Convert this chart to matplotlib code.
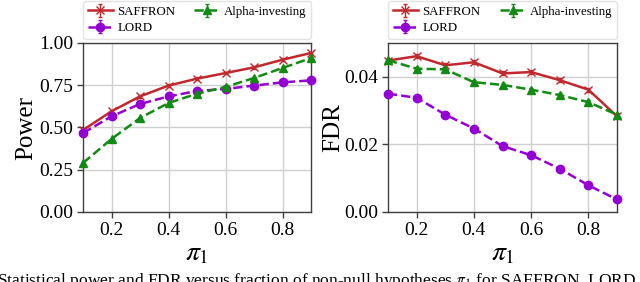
import matplotlib
matplotlib.use("Agg")
import matplotlib.pyplot as plt

plt.rcParams['font.family'] = ['Liberation Serif', 'DejaVu Serif']
plt.rcParams['mathtext.fontset'] = 'stix'

pi1 = [0.1, 0.2, 0.3, 0.4, 0.5, 0.6, 0.7, 0.8, 0.9]
x_ticks = [0.2, 0.4, 0.6, 0.8]

power_saffron = [0.485, 0.596, 0.684, 0.748, 0.789, 0.822, 0.856, 0.901, 0.941]
power_lord = [0.467, 0.566, 0.639, 0.684, 0.716, 0.728, 0.748, 0.767, 0.779]
power_alpha = [0.29, 0.432, 0.556, 0.645, 0.70, 0.74, 0.793, 0.852, 0.911]

fdr_saffron = [0.0448, 0.0461, 0.0434, 0.0443, 0.0410, 0.0414, 0.0390, 0.0362, 0.0283]
fdr_lord = [0.0350, 0.0338, 0.0288, 0.0247, 0.0195, 0.0168, 0.0128, 0.0079, 0.0037]
fdr_alpha = [0.0449, 0.0424, 0.0422, 0.0384, 0.0376, 0.0362, 0.0346, 0.0325, 0.0288]

power_err = [0.008] * 9
fdr_err = [0.0006] * 9

names = ['SAFFRON', 'LORD', 'Alpha-investing']
colors = ['#c0282d', '#9400d3', '#138a13']
markers = ['x', 'o', '^']
styles = ['-', '--', '--']

fig = plt.figure(figsize=(6.4, 2.82), dpi=100)
W, H = 640, 282
ax1 = fig.add_axes([83 / W, (H - 212) / H, 228 / W, 169 / H])
ax2 = fig.add_axes([388 / W, (H - 212) / H, 229 / W, 169 / H])


def draw(ax, series, err, ylim, yticks, ylabel):
    for y, name, c, m, ls in zip(series, names, colors, markers, styles):
        ax.errorbar(pi1, y, yerr=err, color=c, marker=m, linestyle=ls,
                    linewidth=1.8, markersize=6, markeredgewidth=1.0,
                    elinewidth=1.0, capsize=1.5, label=name,
                    markerfacecolor=c, markeredgecolor=c, clip_on=False,
                    zorder=3)
    ax.set_xlim(0.1, 0.9)
    ax.set_ylim(*ylim)
    ax.set_xticks(x_ticks)
    ax.set_yticks(yticks)
    ax.grid(True, color='#d0d0d0', linewidth=1.0)
    ax.set_axisbelow(True)
    for s in ax.spines.values():
        s.set_color('#404040')
        s.set_linewidth(1.0)
    ax.tick_params(labelsize=14, length=4, color='#404040', width=1.0, pad=3)
    ax.set_ylabel(ylabel, fontsize=18)
    ax.set_xlabel(r'$\pi_1$', fontsize=20, labelpad=2)
    ax.legend(loc='lower left', bbox_to_anchor=(0, 1.025, 1, 0.2), mode='expand',
              ncol=2, fontsize=9.3, frameon=True, borderaxespad=0,
              handlelength=2.0, columnspacing=1.2, handletextpad=0.3,
              labelspacing=0.35, borderpad=0.35, fancybox=True,
              edgecolor='#dddddd')


draw(ax1, [power_saffron, power_lord, power_alpha], power_err,
     (0, 1.0), [0.0, 0.25, 0.5, 0.75, 1.0], 'Power')
ax1.set_yticklabels(['0.00', '0.25', '0.50', '0.75', '1.00'])
draw(ax2, [fdr_saffron, fdr_lord, fdr_alpha], fdr_err,
     (0, 0.05), [0.0, 0.02, 0.04], 'FDR')
ax2.set_yticklabels(['0.00', '0.02', '0.04'])
ax1.yaxis.set_label_coords(-0.20, 0.5)
ax2.yaxis.set_label_coords(-0.19, 0.5)

fig.text(-0.004, -0.012,
         r'Statistical power and FDR versus fraction of non-null hypotheses $\pi_1$ for SAFFRON, LORD',
         fontsize=12.5, ha='left', va='baseline')

fig.savefig('out.png', dpi=100)
